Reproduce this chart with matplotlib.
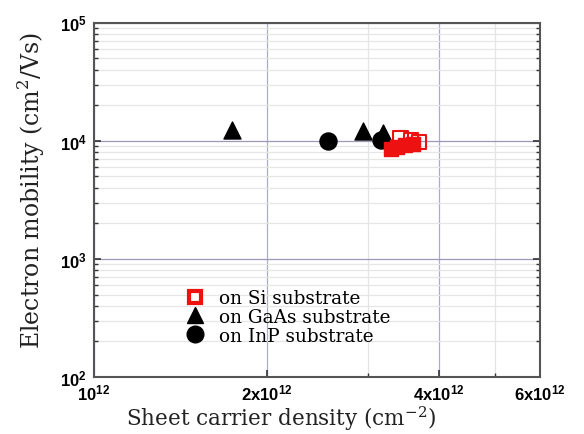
import matplotlib
matplotlib.use("Agg")
import matplotlib.pyplot as plt
from matplotlib.ticker import FixedLocator, FixedFormatter, LogLocator, NullFormatter
from matplotlib.lines import Line2D

plt.rcParams['mathtext.fontset'] = 'custom'
plt.rcParams['mathtext.rm'] = 'DejaVu Serif'
plt.rcParams['mathtext.bf'] = 'Liberation Sans:bold'
plt.rcParams['mathtext.sf'] = 'Liberation Sans:bold'

# Data
si_open_x = [3.42e12, 3.57e12, 3.69e12]
si_open_y = [1.06e4, 1.02e4, 9.8e3]
si_fill_x = [3.30e12, 3.38e12, 3.49e12, 3.60e12]
si_fill_y = [8.55e3, 8.9e3, 9.25e3, 9.4e3]
gaas_x = [1.74e12, 2.94e12, 3.19e12]
gaas_y = [1.24e4, 1.22e4, 1.17e4]
inp_x = [2.56e12, 3.17e12]
inp_y = [1.0e4, 1.02e4]

xticks = [1e12, 2e12, 4e12, 6e12]
xticklabels = [r'$\mathbf{10^{12}}$', r'$\mathbf{2x10^{12}}$', r'$\mathbf{4x10^{12}}$', r'$\mathbf{6x10^{12}}$']
xminor = [3e12, 5e12]
yticks = [1e2, 1e3, 1e4, 1e5]
yticklabels = [r'$\mathbf{10^{2}}$', r'$\mathbf{10^{3}}$', r'$\mathbf{10^{4}}$', r'$\mathbf{10^{5}}$']

fig = plt.figure(figsize=(5.84, 4.35), dpi=100)
ax = fig.add_axes([0.161, 0.131, 0.764, 0.814])
ax.set_xscale('log')
ax.set_yscale('log')
ax.set_xlim(1e12, 6e12)
ax.set_ylim(1e2, 1e5)

ax.xaxis.set_major_locator(FixedLocator(xticks))
ax.xaxis.set_major_formatter(FixedFormatter(xticklabels))
ax.xaxis.set_minor_locator(FixedLocator(xminor))
ax.xaxis.set_minor_formatter(NullFormatter())
ax.yaxis.set_major_locator(FixedLocator(yticks))
ax.yaxis.set_major_formatter(FixedFormatter(yticklabels))
ax.yaxis.set_minor_locator(LogLocator(base=10, subs=range(2, 10)))
ax.yaxis.set_minor_formatter(NullFormatter())

ax.grid(which='major', axis='x', color='#a8a8e8', lw=0.9)
ax.grid(which='minor', axis='x', color='#e4e4e4', lw=0.9)
ax.grid(which='major', axis='y', color='#9a9ab8', lw=0.9)
ax.grid(which='minor', axis='y', color='#e6e6e6', lw=0.9)
ax.set_axisbelow(True)

ax.tick_params(which='both', direction='in', right=True, top=False, color='#333333')
ax.tick_params(which='major', length=5, width=1.2, labelsize=12, pad=5)
ax.tick_params(which='minor', length=3, width=1.0)
for s in ax.spines.values():
    s.set_color('#555555')
    s.set_linewidth(1.5)

ax.scatter(gaas_x, gaas_y, marker='^', s=150, color='black', zorder=3)
ax.scatter(inp_x, inp_y, marker='o', s=150, color='black', zorder=3)
ax.scatter(si_fill_x, si_fill_y, marker='s', s=110, color='#ee1111', edgecolors='#ee1111', zorder=4)
ax.scatter(si_open_x, si_open_y, marker='s', s=110, facecolors='none', edgecolors='#ee1111', linewidths=1.5, zorder=4)

h_si = Line2D([], [], marker='s', ls='none', markersize=9, markerfacecolor='white',
              markeredgecolor='#ee1111', markeredgewidth=3)
h_ga = Line2D([], [], marker='^', ls='none', markersize=12, color='black')
h_in = Line2D([], [], marker='o', ls='none', markersize=12, color='black')
ax.legend([h_si, h_ga, h_in], ['on Si substrate', 'on GaAs substrate', 'on InP substrate'],
          loc='upper left', bbox_to_anchor=(0.175, 0.285), frameon=False,
          prop={'family': 'DejaVu Serif', 'size': 13.3}, handletextpad=0.75,
          labelspacing=0.05, borderpad=0.2, handlelength=1.1)

ax.set_xlabel('Sheet carrier density (cm$^{-2}$)', family='DejaVu Serif', fontsize=15.5, labelpad=2, color='#222222')
ax.xaxis.set_label_coords(0.42, -0.075)
ax.set_ylabel('Electron mobility (cm$^{2}$/Vs)', family='DejaVu Serif', fontsize=17, labelpad=2, color='#222222')
ax.yaxis.set_label_coords(-0.105, 0.53)

fig.savefig('out.png', dpi=100)
